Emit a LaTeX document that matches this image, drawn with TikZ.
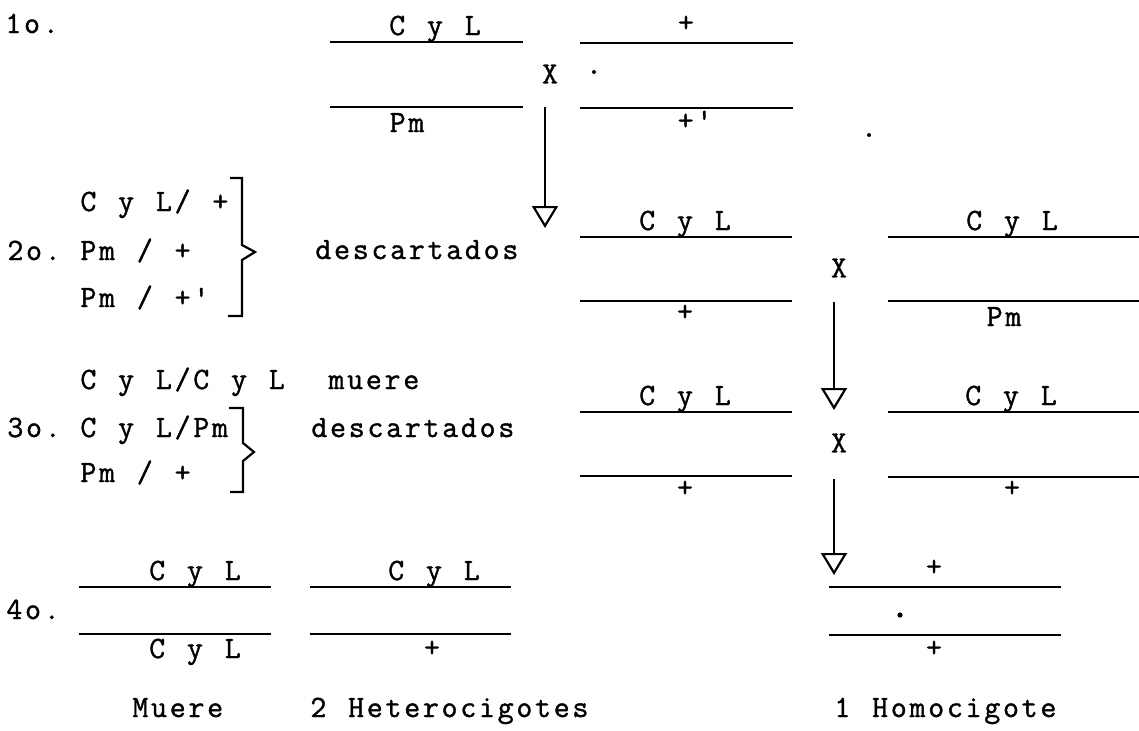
\documentclass[tikz,border=0pt]{standalone}
\usepackage{fontspec}
\setmonofont{Latin Modern Mono}[LetterSpace=8.8,WordSpace=1.167,FakeBold=1.2]
\usepackage{tikz}
\usetikzlibrary{arrows.meta}
\newcommand{\maq}{\fontsize{15.5pt}{18pt}\selectfont\ttfamily}

\begin{document}
\begin{tikzpicture}[x=.5pt,y=-.5pt,
  every node/.style={font=\maq,inner sep=0pt},
  chrom/.style={line width=1pt},
  cruce/.style={line width=.75pt,-{Triangle[open,length=11pt,width=13pt,line width=1.1pt]}},
  llave/.style={line width=1.1pt}]
\useasboundingbox (0,0) rectangle (1139,730);
% pares: nombre/x izq/x der/y sup/y inf/arriba/x/base/abajo/x/base
\foreach \n/\xa/\xb/\ya/\yb/\up/\ux/\uy/\dn/\dx/\dy in {
  p1/330/523/42/107/C y L/435/35/Pm/407/132,
  p2/580/793/43/108/+/686/32/+'/695/130,
  p3/580/792/237/301/C y L/685/230/+/685/321,
  p4/888/1139/237/301/C y L/1012/230/Pm/1004/326,
  p5/580/792/412/476/C y L/685/405/+/685/497,
  p6/888/1139/412/477/C y L/1011/405/+/1012/497,
  p7/79/271/587/634/C y L/195/580/C y L/195/658,
  p8/310/511/587/634/C y L/434/580/+/432/657,
  p9/829/1061/587/635/+/934/576/+/934/657}{
\draw[chrom] (\xa,\ya) -- (\xb,\ya);
\draw[chrom] (\xa,\yb) -- (\xb,\yb);
\node[anchor=base] (\n t) at (\ux,\uy) {\up};
\node[anchor=base] (\n b) at (\dx,\dy) {\dn};
}
% cruces
\node (x1) at (550,74) {X};
\node (x2) at (839,268) {X};
\node (x3) at (839,443) {X};
\coordinate (a1) at (545,107);
\coordinate (a1f) at (545,228);
\coordinate (a2) at (834,302);
\coordinate (a2f) at (834,410);
\coordinate (a3) at (834,479);
\coordinate (a3f) at (834,575);
\draw[cruce] (a1) -- (a1f);
\draw[cruce] (a2) -- (a2f);
\draw[cruce] (a3) -- (a3f);
% generaciones
\node[anchor=base west] (g1) at (5,33) {1o.};
\node[anchor=base west] (g2) at (7,260) {2o.};
\node[anchor=base west] (g3) at (7,437) {3o.};
\node[anchor=base west] (g4) at (6,619) {4o.};
\node[anchor=base west] (l21) at (80,211) {C y L/ +};
\node[anchor=base west] (l22) at (80,260) {Pm / +};
\node[anchor=base west] (l23) at (80,307) {Pm / +'};
\node[anchor=base west] (d2) at (315,259) {descartados};
\node[anchor=base west] (l31) at (80,389) {C y L/C y L\ \ muere};
\node[anchor=base west] (l32) at (80,437) {C y L/Pm};
\node[anchor=base west] (l33) at (80,482) {Pm / +};
\node[anchor=base west] (d3) at (311,437) {descartados};
\draw[llave] (230,178) -- (242,178) -- (242,245) -- (255,252) -- (242,260) -- (242,316) -- (228,316);
\draw[llave] (229,408) -- (243,408) -- (243,443) -- (254,452) -- (243,461) -- (243,492) -- (230,492);
% resultados
\node[anchor=base west] (r1) at (132,717) {Muere};
\node[anchor=base west] (r2) at (310,717) {2 Heterocigotes};
\node[anchor=base west] (r3) at (834,717) {1 Homocigote};
\fill (594,72) circle (1pt);
\fill (869,135) circle (1pt);
\fill (900,615) circle (1.3pt);
\end{tikzpicture}
\end{document}
